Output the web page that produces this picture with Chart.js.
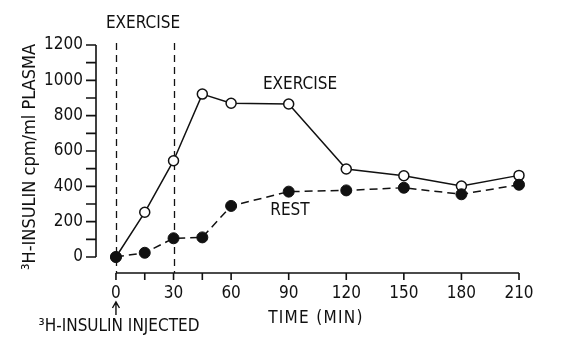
<!DOCTYPE html>
<html>
<head>
<meta charset="utf-8">
<script src="https://cdn.jsdelivr.net/npm/chart.js@4.4.0/dist/chart.umd.min.js"></script>
<style>
  html, body { margin: 0; padding: 0; background: #fff; }
  #wrap { width: 561px; height: 351px; }
</style>
</head>
<body>
<div id="wrap"><canvas id="chart" width="561" height="351"></canvas></div>
<script>
// sampling times (min)
const times = [0, 15, 30, 45, 60, 90, 120, 150, 180, 210];
// 3H-insulin cpm/ml plasma
const exercise = [0, 253, 545, 922, 870, 866, 498, 460, 402, 462];
const rest = [0, 24, 106, 111, 289, 370, 377, 392, 355, 409];

const xLabels = [0, 30, 60, 90, 120, 150, 180, 210];
const xMinor = [15, 45];
const yLabels = [0, 200, 400, 600, 800, 1000, 1200];
const yMinor = [100, 300, 500, 700, 900, 1100];
const exercisePeriod = [0, 30];

const FONT = '"DejaVu Sans Condensed", "DejaVu Sans", sans-serif';
const INK = '#111';

const paperAxes = {
  id: 'paperAxes',
  beforeDatasetsDraw(chart) {
    const { ctx, scales: { x } } = chart;
    const bottom = chart.chartArea.bottom;
    ctx.save();
    ctx.strokeStyle = INK;
    ctx.lineWidth = 1.3;
    ctx.setLineDash([7, 5]);
    exercisePeriod.forEach(t => {
      const px = Math.round(x.getPixelForValue(t)) + 0.5;
      ctx.beginPath();
      ctx.moveTo(px, 43);
      ctx.lineTo(px, bottom);
      ctx.stroke();
    });
    ctx.restore();
  },
  afterDraw(chart) {
    const { ctx, scales: { x, y } } = chart;
    const area = chart.chartArea;
    ctx.save();
    ctx.strokeStyle = INK;
    ctx.fillStyle = INK;
    ctx.lineWidth = 1.6;

    // y axis, detached from the x axis
    const ax = area.left;
    ctx.beginPath();
    ctx.moveTo(ax, y.getPixelForValue(0));
    ctx.lineTo(ax, y.getPixelForValue(1200));
    yLabels.concat(yMinor).forEach(v => {
      const py = y.getPixelForValue(v);
      ctx.moveTo(ax - 10, py);
      ctx.lineTo(ax, py);
    });
    ctx.stroke();

    // x axis
    const ay = area.bottom;
    ctx.beginPath();
    ctx.moveTo(x.getPixelForValue(0), ay);
    ctx.lineTo(x.getPixelForValue(210), ay);
    xLabels.concat(xMinor).forEach(v => {
      const px = x.getPixelForValue(v);
      ctx.moveTo(px, ay);
      ctx.lineTo(px, ay + 7);
    });
    ctx.stroke();

    // injection arrow
    const ix = x.getPixelForValue(0);
    ctx.lineWidth = 1.4;
    ctx.beginPath();
    ctx.moveTo(ix, 315);
    ctx.lineTo(ix, 303);
    ctx.moveTo(ix - 3.5, 308);
    ctx.lineTo(ix, 302);
    ctx.lineTo(ix + 3.5, 308);
    ctx.stroke();

    // texts
    ctx.font = '17px ' + FONT;
    ctx.textAlign = 'center';
    ctx.textBaseline = 'middle';
    ctx.fillText('EXERCISE', 143, 24);
    ctx.fillText('EXERCISE', 300, 85);
    ctx.fillText('REST', 290, 211);
    ctx.fillText('³H-INSULIN INJECTED', 119, 327);
    ctx.letterSpacing = '1.3px';
    ctx.fillText('TIME (MIN)', 316, 319);
    ctx.letterSpacing = '0px';

    ctx.font = '18px ' + FONT;
    ctx.translate(30, 157);
    ctx.rotate(-Math.PI / 2);
    ctx.fillText('³H-INSULIN cpm/ml PLASMA', 0, 0);
    ctx.restore();
  }
};

new Chart(document.getElementById('chart'), {
  type: 'line',
  data: {
    datasets: [
      {
        label: 'REST',
        data: times.map((t, i) => ({ x: t, y: rest[i] })),
        borderColor: INK,
        borderWidth: 1.5,
        borderDash: [8, 5],
        pointRadius: 5.5,
        pointBackgroundColor: INK,
        pointBorderColor: INK,
        pointBorderWidth: 1,
        clip: false
      },
      {
        label: 'EXERCISE',
        data: times.map((t, i) => ({ x: t, y: exercise[i] })),
        borderColor: INK,
        borderWidth: 1.5,
        pointRadius: 5,
        pointBackgroundColor: '#fff',
        pointBorderColor: INK,
        pointBorderWidth: 1.5,
        clip: false
      }
    ]
  },
  options: {
    responsive: false,
    animation: false,
    layout: { padding: { top: 45, right: 42, left: 0, bottom: 0 } },
    plugins: { legend: { display: false }, tooltip: { enabled: false } },
    scales: {
      x: {
        type: 'linear',
        min: -10.4,
        max: 210,
        afterBuildTicks: s => { s.ticks = xLabels.map(v => ({ value: v })); },
        afterFit: s => { s.height = 78; },
        grid: { display: false, drawTicks: false },
        border: { display: false },
        ticks: { color: INK, font: { family: FONT, size: 17 }, padding: 10, autoSkip: false, maxRotation: 0, callback: v => String(v) }
      },
      y: {
        min: -90.6,
        max: 1200,
        afterBuildTicks: s => { s.ticks = yLabels.map(v => ({ value: v })); },
        afterFit: s => { s.width = 96; },
        grid: { display: false, drawTicks: false },
        border: { display: false },
        ticks: { color: INK, font: { family: FONT, size: 17 }, padding: 13, callback: v => String(v) }
      }
    }
  },
  plugins: [paperAxes]
});
</script>
</body>
</html>
